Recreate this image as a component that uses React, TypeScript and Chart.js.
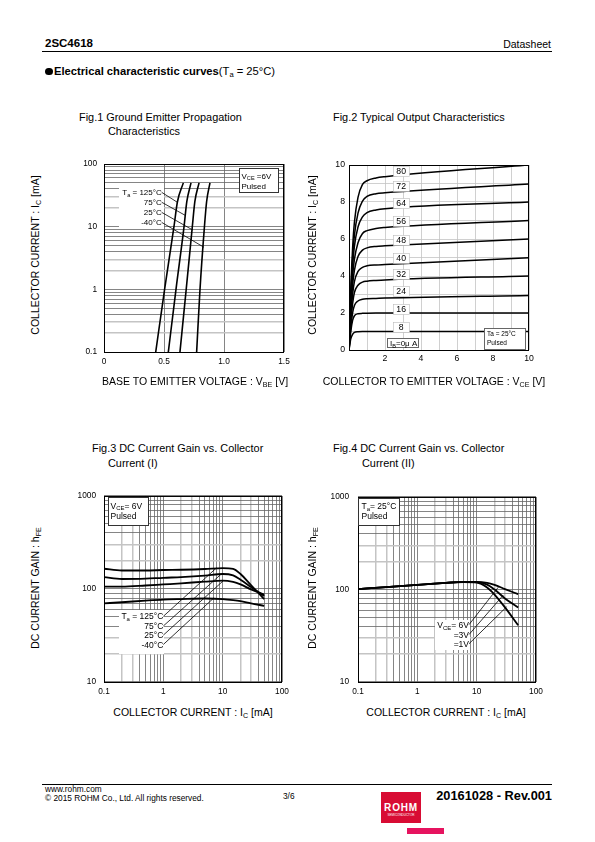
import React, { useEffect, useRef } from 'react';
import { Chart, registerables } from 'chart.js';
Chart.register(...registerables);

const FONT = '"Liberation Sans", Arial, Helvetica, sans-serif';

// ---------- Fig.1 Ground Emitter Propagation Characteristics ----------
const FIG1_IC = [0.1, 1, 10, 25, 50];
const FIG1_VBE_125 = [0.431, 0.505, 0.583, 0.612, 0.661];
const FIG1_VBE_75 = [0.536, 0.6, 0.667, 0.69, 0.725];
const FIG1_VBE_25 = [0.633, 0.685, 0.736, 0.757, 0.792];
const FIG1_VBE_M40 = [0.772, 0.8, 0.837, 0.855, 0.883];
const FIG1_X_LABELS = ['0', '0.5', '1.0', '1.5'];
const FIG1_Y_LABELS = [0.1, 1, 10, 100];
const FIG1_TEMPS = ['125°C', '75°C', '25°C', '-40°C'];
const FIG1_LABEL_IC = [35.3, 24.5, 16.9, 11.7];
const FIG1_LEADER_END: [number, number][] = [[0.611, 24.5], [0.681, 15.0], [0.739, 8.85], [0.833, 4.69]];

// ---------- Fig.2 Typical Output Characteristics ----------
const FIG2_VCE = [0, 0.1, 0.2, 0.3, 0.5, 0.75, 1, 1.5, 2, 10];
const FIG2_IB = [8, 16, 24, 32, 40, 48, 56, 64, 72, 80];
const FIG2_IC_8 = [0, 0.6, 0.85, 0.95, 0.99, 1.0, 1.0, 1.0, 1.0, 1.0];
const FIG2_IC_16 = [0, 1.0, 1.6, 1.85, 1.96, 1.98, 1.99, 2.0, 2.0, 2.0];
const FIG2_IC_24 = [0, 1.2, 2.0, 2.4, 2.65, 2.74, 2.77, 2.79, 2.81, 2.95];
const FIG2_IC_32 = [0, 1.5, 2.5, 3.1, 3.5, 3.67, 3.72, 3.76, 3.79, 4.0];
const FIG2_IC_40 = [0, 1.8, 3.0, 3.7, 4.25, 4.47, 4.55, 4.6, 4.62, 4.98];
const FIG2_IC_48 = [0, 2.1, 3.5, 4.3, 5.05, 5.4, 5.52, 5.6, 5.63, 6.0];
const FIG2_IC_56 = [0, 2.4, 4.0, 4.9, 5.8, 6.3, 6.45, 6.57, 6.62, 7.0];
const FIG2_IC_64 = [0, 2.7, 4.5, 5.6, 6.65, 7.2, 7.42, 7.57, 7.64, 8.0];
const FIG2_IC_72 = [0, 3.0, 5.0, 6.2, 7.4, 8.05, 8.3, 8.45, 8.5, 8.97];
const FIG2_IC_80 = [0, 3.3, 5.5, 6.9, 8.25, 8.95, 9.15, 9.3, 9.37, 10.0];
const FIG2_LABEL_X = 2.9;
const FIG2_LABEL_Y = [1.26, 2.22, 3.17, 4.09, 4.99, 5.95, 6.97, 7.96, 8.86, 9.69];
const FIG2_X_LABELS = [2, 4, 6, 8, 10];
const FIG2_Y_LABELS = [0, 2, 4, 6, 8, 10];

// ---------- Fig.3 DC Current Gain vs. Collector Current (I) ----------
const FIG3_IC = [0.1, 0.2, 0.5, 1, 2, 5, 10, 15, 20, 30, 50];
const FIG3_HFE_125 = [165, 158, 158, 160, 161, 164, 168, 165, 145, 110, 78];
const FIG3_HFE_75 = [134, 128, 129, 132, 134, 139, 145, 140, 126, 105, 84];
const FIG3_HFE_25 = [106, 106, 109, 112, 115, 120, 123, 119, 112, 99, 87];
const FIG3_HFE_M40 = [70, 72, 75, 77, 78, 79, 78, 76, 74, 70, 66];
const FIG3_LABEL_HFE = [50.8, 40.0, 31.9, 25.3];
const FIG3_LEADER_END: [number, number][] = [[7.9, 169], [9.27, 143], [10.3, 123], [7.14, 80.5]];

// ---------- Fig.4 DC Current Gain vs. Collector Current (II) ----------
const FIG4_IC = [0.1, 0.3, 1, 3, 6, 10, 15, 20, 30, 50];
const FIG4_HFE_6V = [101, 106, 112, 118, 121, 121, 118, 112, 101, 89];
const FIG4_HFE_3V = [101, 106, 112, 118, 121, 120, 113, 100, 80, 64];
const FIG4_HFE_1V = [101, 106, 112, 118, 120, 119, 105, 88, 64, 41];
const FIG4_LABEL_HFE = [41.7, 32.6, 25.9];
const FIG4_LEADER_END: [number, number][] = [[23.2, 106], [28.1, 87], [32, 65]];

const LOG_X_LABELS = [0.1, 1, 10, 100];
const LOG_Y_LABELS = [10, 100, 1000];

// ---------- helpers ----------
type Part = [string, boolean?];

function logGrid(min: number, max: number): number[] {
  const out: number[] = [];
  for (let e = Math.floor(Math.log10(min)); e <= Math.ceil(Math.log10(max)); e++) {
    for (let m = 1; m <= 9; m++) {
      const v = Number((m * Math.pow(10, e)).toPrecision(6));
      if (v >= min * 0.999 && v <= max * 1.001) out.push(v);
    }
  }
  return out;
}

function sig(v: number) {
  const e = Math.floor(Math.log10(v) + 1e-9);
  return Math.round(v / Math.pow(10, e));
}

const DARK = '#666666';
const LIGHT = '#c4c4c4';

function logScale(min: number, max: number, labels: number[], pad: number, isY: boolean, size: number) {
  return {
    type: 'logarithmic',
    min,
    max,
    afterBuildTicks: (s: any) => {
      s.ticks = logGrid(min, max).map((v) => ({ value: v }));
    },
    afterFit: (s: any) => {
      if (isY) s.width = 40;
      else s.height = 22;
    },
    ticks: {
      autoSkip: false,
      maxRotation: 0,
      minRotation: 0,
      padding: pad,
      color: '#000',
      font: { family: FONT, size },
      callback: (v: number) => (labels.some((l) => Math.abs(l - v) / l < 1e-6) ? String(v) : ''),
    },
    grid: {
      drawTicks: false,
      color: (ctx: any) => {
        const m = sig(ctx.tick.value);
        return m === 2 || m === 3 ? LIGHT : DARK;
      },
      lineWidth: (ctx: any) => {
        const m = sig(ctx.tick.value);
        return m === 2 || m === 3 ? 1.5 : 0.8;
      },
    },
    border: { display: false },
  };
}

function P(c: any, x: number, y: number): [number, number] {
  return [c.scales.x.getPixelForValue(x), c.scales.y.getPixelForValue(y)];
}

function box(ctx: CanvasRenderingContext2D, c: any, x1: number, y1: number, x2: number, y2: number, fill: string | null, stroke: string | null) {
  const [a, b] = P(c, x1, y1);
  const [d, e] = P(c, x2, y2);
  const l = Math.round(Math.min(a, d)) + 0.5;
  const t = Math.round(Math.min(b, e)) + 0.5;
  const w = Math.round(Math.abs(d - a));
  const h = Math.round(Math.abs(e - b));
  if (fill) {
    ctx.fillStyle = fill;
    ctx.fillRect(l - 0.5, t - 0.5, w + 1, h + 1);
  }
  if (stroke) {
    ctx.strokeStyle = stroke;
    ctx.lineWidth = 1;
    ctx.strokeRect(l, t, w, h);
  }
  return { l, t, w, h };
}

function seg(ctx: CanvasRenderingContext2D, c: any, x1: number, y1: number, x2: number, y2: number) {
  const [a, b] = P(c, x1, y1);
  const [d, e] = P(c, x2, y2);
  ctx.strokeStyle = '#000';
  ctx.lineWidth = 0.8;
  ctx.beginPath();
  ctx.moveTo(a, b);
  ctx.lineTo(d, e);
  ctx.stroke();
}

function rich(ctx: CanvasRenderingContext2D, parts: Part[], x: number, y: number, size: number, align: 'left' | 'right' | 'center') {
  const sub = size * 0.7;
  let w = 0;
  for (const [t, s] of parts) {
    ctx.font = `${s ? sub : size}px ${FONT}`;
    w += ctx.measureText(t).width;
  }
  let cx = align === 'left' ? x : align === 'right' ? x - w : x - w / 2;
  ctx.textAlign = 'left';
  ctx.textBaseline = 'alphabetic';
  ctx.fillStyle = '#000';
  for (const [t, s] of parts) {
    ctx.font = `${s ? sub : size}px ${FONT}`;
    ctx.fillText(t, cx, s ? y + size * 0.22 : y);
    cx += ctx.measureText(t).width;
  }
}

function frame(c: any) {
  const ctx = c.ctx as CanvasRenderingContext2D;
  const a = c.chartArea;
  ctx.save();
  ctx.strokeStyle = '#000';
  ctx.lineWidth = 1;
  ctx.strokeRect(a.left + 0.5, a.top + 0.5, a.right - a.left - 1, a.bottom - a.top);
  ctx.restore();
}

function curve(xs: number[], ys: number[], swap: boolean, width: number) {
  return {
    data: xs.map((v, i) => (swap ? { x: ys[i], y: v } : { x: v, y: ys[i] })),
    showLine: true,
    borderColor: '#000',
    borderWidth: width,
    pointRadius: 0,
    fill: false,
    cubicInterpolationMode: 'monotone',
  };
}

function baseOptions(x: any, y: any) {
  return {
    responsive: false,
    animation: false,
    devicePixelRatio: 1,
    events: [],
    layout: { padding: { left: 0, top: 12, right: 14, bottom: 0 } },
    plugins: { legend: { display: false }, tooltip: { enabled: false } },
    scales: { x, y },
  };
}

function ChartCanvas({ L, T, R, B, make }: { L: number; T: number; R: number; B: number; make: () => any }) {
  const ref = useRef<HTMLCanvasElement>(null);
  const w = R - L + 54;
  const h = B - T + 34;
  useEffect(() => {
    const chart = new Chart(ref.current as HTMLCanvasElement, make());
    return () => chart.destroy();
  }, []);
  return (
    <canvas ref={ref} width={w} height={h} style={{ position: 'absolute', left: L - 40, top: T - 12, width: w, height: h }} />
  );
}

// ---------- chart configs ----------
function fig1Config() {
  const x = {
    type: 'linear',
    min: 0,
    max: 1.5,
    afterFit: (s: any) => { s.height = 22; },
    ticks: {
      stepSize: 0.5,
      maxRotation: 0,
      padding: 5,
      color: '#000',
      font: { family: FONT, size: 8.3 },
      callback: (v: number, i: number) => FIG1_X_LABELS[i] ?? '',
    },
    grid: { drawTicks: false, color: DARK, lineWidth: 0.8 },
    border: { display: false },
  };
  const y = logScale(0.1, 100, FIG1_Y_LABELS, 7, true, 8.3);
  return {
    type: 'scatter',
    data: {
      datasets: [
        curve(FIG1_IC, FIG1_VBE_125, true, 1.6),
        curve(FIG1_IC, FIG1_VBE_75, true, 1.6),
        curve(FIG1_IC, FIG1_VBE_25, true, 1.6),
        curve(FIG1_IC, FIG1_VBE_M40, true, 1.6),
      ],
    },
    options: baseOptions(x, y),
    plugins: [
      {
        id: 'fig1ann',
        beforeDatasetsDraw(c: any) {
          const ctx = c.ctx;
          ctx.save();
          box(ctx, c, 0.125, 43.5, 0.49, 9.9, '#fff', null);
          ctx.restore();
        },
        afterDatasetsDraw(c: any) {
          const ctx = c.ctx as CanvasRenderingContext2D;
          ctx.save();
          frame(c);
          FIG1_TEMPS.forEach((t, i) => {
            const [px, py] = P(c, 0.481, FIG1_LABEL_IC[i]);
            const parts: Part[] = i === 0 ? [['T'], ['a', true], [' = ' + t]] : [[t]];
            rich(ctx, parts, px, py + 3, 8, 'right');
            seg(ctx, c, 0.481, FIG1_LABEL_IC[i], FIG1_LEADER_END[i][0], FIG1_LEADER_END[i][1]);
          });
          const b = box(ctx, c, 1.125, 86.3, 1.45, 35.7, '#fff', '#333');
          rich(ctx, [['V'], ['CE', true], [' =6V']], b.l + 2, b.t + 10, 8, 'left');
          rich(ctx, [['Pulsed']], b.l + 2, b.t + 20, 8, 'left');
          ctx.restore();
        },
      },
    ],
  };
}

function fig2Config() {
  const x = {
    type: 'linear',
    min: 0,
    max: 10,
    afterFit: (s: any) => { s.height = 22; },
    ticks: {
      stepSize: 1,
      maxRotation: 0,
      autoSkip: false,
      padding: 3,
      color: '#000',
      font: { family: FONT, size: 8.7 },
      callback: (v: number) => (FIG2_X_LABELS.includes(v) ? String(v) : ''),
    },
    grid: { drawTicks: false, color: LIGHT, lineWidth: 0.8 },
    border: { display: false },
  };
  const y = {
    type: 'linear',
    min: 0,
    max: 10,
    afterFit: (s: any) => { s.width = 40; },
    ticks: {
      stepSize: 1,
      autoSkip: false,
      padding: 4,
      color: '#000',
      font: { family: FONT, size: 8.7 },
      callback: (v: number) => (FIG2_Y_LABELS.includes(v) ? String(v) : ''),
    },
    grid: { drawTicks: false, color: LIGHT, lineWidth: 0.8 },
    border: { display: false },
  };
  const series = [FIG2_IC_8, FIG2_IC_16, FIG2_IC_24, FIG2_IC_32, FIG2_IC_40, FIG2_IC_48, FIG2_IC_56, FIG2_IC_64, FIG2_IC_72, FIG2_IC_80];
  return {
    type: 'scatter',
    data: { datasets: series.map((s) => curve(FIG2_VCE, s, false, 1.5)) },
    options: baseOptions(x, y),
    plugins: [
      {
        id: 'fig2ann',
        afterDatasetsDraw(c: any) {
          const ctx = c.ctx as CanvasRenderingContext2D;
          ctx.save();
          frame(c);
          FIG2_IB.forEach((ib, i) => {
            const [px, py] = P(c, FIG2_LABEL_X, FIG2_LABEL_Y[i]);
            const l = Math.round(px - 8) + 0.5;
            const t = Math.round(py - 5) + 0.5;
            ctx.fillStyle = '#fff';
            ctx.fillRect(l, t, 16, 10);
            ctx.strokeStyle = '#bbb';
            ctx.lineWidth = 0.6;
            ctx.strokeRect(l, t, 16, 10);
            rich(ctx, [[String(ib)]], px, py + 3, 8.7, 'center');
          });
          const b1 = box(ctx, c, 2.09, 0.66, 3.79, 0.19, '#fff', '#666');
          rich(ctx, [['I'], ['B', true], ['=0μ A']], b1.l + 2.5, b1.t + 7.5, 8, 'left');
          const b2 = box(ctx, c, 7.52, 1.17, 9.78, 0.05, '#fff', '#666');
          rich(ctx, [['Ta = 25°C']], b2.l + 2.5, b2.t + 7, 6.5, 'left');
          rich(ctx, [['Pulsed']], b2.l + 2.5, b2.t + 16, 6.5, 'left');
          ctx.restore();
        },
      },
    ],
  };
}

function fig3Config() {
  const x = logScale(0.1, 100, LOG_X_LABELS, 5, false, 8.3);
  const y = logScale(10, 1000, LOG_Y_LABELS, 8, true, 8.3);
  const temps = ['125°C', '75°C', '25°C', '-40°C'];
  return {
    type: 'scatter',
    data: {
      datasets: [
        curve(FIG3_IC, FIG3_HFE_125, false, 1.8),
        curve(FIG3_IC, FIG3_HFE_75, false, 1.8),
        curve(FIG3_IC, FIG3_HFE_25, false, 1.8),
        curve(FIG3_IC, FIG3_HFE_M40, false, 1.8),
      ],
    },
    options: baseOptions(x, y),
    plugins: [
      {
        id: 'fig3ann',
        beforeDatasetsDraw(c: any) {
          const ctx = c.ctx;
          ctx.save();
          box(ctx, c, 0.179, 58.9, 0.999, 20.3, '#fff', null);
          ctx.restore();
        },
        afterDatasetsDraw(c: any) {
          const ctx = c.ctx as CanvasRenderingContext2D;
          ctx.save();
          frame(c);
          temps.forEach((t, i) => {
            const [px, py] = P(c, 1.0, FIG3_LABEL_HFE[i]);
            const parts: Part[] = i === 0 ? [['T'], ['a', true], [' = ' + t]] : [[t]];
            rich(ctx, parts, px, py + 3, 8.5, 'right');
            seg(ctx, c, 1.0, FIG3_LABEL_HFE[i], FIG3_LEADER_END[i][0], FIG3_LEADER_END[i][1]);
          });
          const b = box(ctx, c, 0.1155, 983, 0.544, 497.6, '#fff', '#333');
          rich(ctx, [['V'], ['CE', true], ['= 6V']], b.l + 2, b.t + 11, 8.5, 'left');
          rich(ctx, [['Pulsed']], b.l + 2, b.t + 21, 8.5, 'left');
          ctx.restore();
        },
      },
    ],
  };
}

function fig4Config() {
  const x = logScale(0.1, 100, LOG_X_LABELS, 5, false, 8.3);
  const y = logScale(10, 1000, LOG_Y_LABELS, 9, true, 8.3);
  const labels: Part[][] = [[['V'], ['CE', true], ['= 6V']], [['=3V']], [['=1V']]];
  return {
    type: 'scatter',
    data: {
      datasets: [
        curve(FIG4_IC, FIG4_HFE_6V, false, 1.8),
        curve(FIG4_IC, FIG4_HFE_3V, false, 1.8),
        curve(FIG4_IC, FIG4_HFE_1V, false, 1.8),
      ],
    },
    options: baseOptions(x, y),
    plugins: [
      {
        id: 'fig4ann',
        beforeDatasetsDraw(c: any) {
          const ctx = c.ctx;
          ctx.save();
          box(ctx, c, 1.986, 46.9, 7.43, 22.9, '#fff', null);
          ctx.restore();
        },
        afterDatasetsDraw(c: any) {
          const ctx = c.ctx as CanvasRenderingContext2D;
          ctx.save();
          frame(c);
          labels.forEach((parts, i) => {
            const [px, py] = P(c, 7.43, FIG4_LABEL_HFE[i]);
            rich(ctx, parts, px, py + 3, 8.5, 'right');
            seg(ctx, c, 7.43, FIG4_LABEL_HFE[i], FIG4_LEADER_END[i][0], FIG4_LEADER_END[i][1]);
          });
          const b = box(ctx, c, 0.1, 983, 0.485, 505, '#fff', '#333');
          rich(ctx, [['T'], ['a', true], ['= 25°C']], b.l + 3, b.t + 10.5, 8.5, 'left');
          rich(ctx, [['Pulsed']], b.l + 3, b.t + 20.5, 8.5, 'left');
          ctx.restore();
        },
      },
    ],
  };
}

// ---------- HTML text helpers ----------
function Tx({ x, y, size, bold, align = 'left', children }: { x: number; y: number; size: number; bold?: boolean; align?: 'left' | 'right' | 'center'; children: React.ReactNode }) {
  const st: React.CSSProperties = {
    position: 'absolute',
    top: y - size / 2,
    fontSize: size,
    lineHeight: `${size}px`,
    whiteSpace: 'nowrap',
    fontWeight: bold ? 'bold' : 'normal',
  };
  if (align === 'left') st.left = x;
  else if (align === 'right') st.right = 595 - x;
  else {
    st.left = x - 300;
    st.width = 600;
    st.textAlign = 'center';
  }
  return <div style={st}>{children}</div>;
}

function VTx({ x, y, size, children }: { x: number; y: number; size: number; children: React.ReactNode }) {
  return (
    <div
      style={{
        position: 'absolute',
        left: x,
        top: y,
        fontSize: size,
        lineHeight: `${size}px`,
        whiteSpace: 'nowrap',
        transform: 'translate(-50%, -50%) rotate(-90deg)',
      }}
    >
      {children}
    </div>
  );
}

const Sub = ({ children }: { children: React.ReactNode }) => (
  <span style={{ fontSize: '0.68em', verticalAlign: '-0.25em', lineHeight: 0 }}>{children}</span>
);

export default function App() {
  return (
    <div style={{ position: 'absolute', left: 0, top: 0, width: 595, height: 842, background: '#fff', fontFamily: FONT, color: '#000', overflow: 'hidden' }}>
      {/* header */}
      <Tx x={45} y={44} size={11.5} bold>2SC4618</Tx>
      <Tx x={551} y={44} size={10.5} align="right">Datasheet</Tx>
      <div style={{ position: 'absolute', left: 42, top: 51, width: 510, height: 1, background: '#000' }} />
      <Tx x={45} y={72} size={11.2}>
        <span style={{ display: 'inline-block', width: 7.5, height: 7.5, borderRadius: '50%', background: '#000', marginRight: 1.5, verticalAlign: '0px' }} />
        <b>Electrical characteristic curves</b>(T<Sub>a</Sub> = 25°C)
      </Tx>

      {/* titles */}
      <Tx x={79} y={117} size={10.9}>Fig.1 Ground Emitter Propagation</Tx>
      <Tx x={108} y={131} size={10.9}>Characteristics</Tx>
      <Tx x={333} y={117} size={10.9}>Fig.2 Typical Output Characteristics</Tx>
      <Tx x={92} y={448} size={10.9}>Fig.3 DC Current Gain vs. Collector</Tx>
      <Tx x={108} y={463} size={10.9}>Current (I)</Tx>
      <Tx x={333} y={448} size={10.9}>Fig.4 DC Current Gain vs. Collector</Tx>
      <Tx x={362} y={463} size={10.9}>Current (II)</Tx>

      {/* charts */}
      <ChartCanvas L={104} T={164} R={284} B={352} make={fig1Config} />
      <ChartCanvas L={349} T={165} R={529} B={350} make={fig2Config} />
      <ChartCanvas L={104} T={495} R={282} B={682} make={fig3Config} />
      <ChartCanvas L={358} T={495} R={536} B={682} make={fig4Config} />

      {/* axis titles */}
      <VTx x={35} y={255} size={10.5}>COLLECTOR CURRENT : I<Sub>C</Sub> [mA]</VTx>
      <VTx x={312} y={255} size={10.5}>COLLECTOR CURRENT : I<Sub>C</Sub> [mA]</VTx>
      <VTx x={35} y={588} size={10.5}>DC CURRENT GAIN : h<Sub>FE</Sub></VTx>
      <VTx x={312} y={588} size={10.5}>DC CURRENT GAIN : h<Sub>FE</Sub></VTx>
      <Tx x={195} y={381} size={10.5} align="center">BASE TO EMITTER VOLTAGE : V<Sub>BE</Sub> [V]</Tx>
      <Tx x={434} y={381} size={10.5} align="center">COLLECTOR TO EMITTER VOLTAGE : V<Sub>CE</Sub> [V]</Tx>
      <Tx x={193} y={712} size={10.5} align="center">COLLECTOR CURRENT : I<Sub>C</Sub> [mA]</Tx>
      <Tx x={446} y={712} size={10.5} align="center">COLLECTOR CURRENT : I<Sub>C</Sub> [mA]</Tx>

      {/* footer */}
      <div style={{ position: 'absolute', left: 42, top: 784, width: 510, height: 1, background: '#000' }} />
      <Tx x={45} y={789.5} size={8.3}>www.rohm.com</Tx>
      <Tx x={45} y={798.5} size={8.3}>© 2015 ROHM Co., Ltd. All rights reserved.</Tx>
      <Tx x={283} y={796} size={8.3}>3/6</Tx>
      <Tx x={552} y={796} size={12.8} bold align="right">20161028 - Rev.001</Tx>
      <div style={{ position: 'absolute', left: 381, top: 792, width: 40, height: 31, background: '#d80c34' }}>
        <div style={{ position: 'absolute', left: 0, top: 10.5, width: 40, textAlign: 'center', color: '#fff', fontWeight: 'bold', fontSize: 10, lineHeight: '10px', letterSpacing: 0.8 }}>ROHM</div>
        <div style={{ position: 'absolute', left: 0, top: 21.5, width: 40, textAlign: 'center', color: '#fff', fontSize: 3, lineHeight: '3px' }}>SEMICONDUCTOR</div>
      </div>
      <div style={{ position: 'absolute', left: 407, top: 828, width: 37, height: 6, background: '#e6135f' }} />
    </div>
  );
}
